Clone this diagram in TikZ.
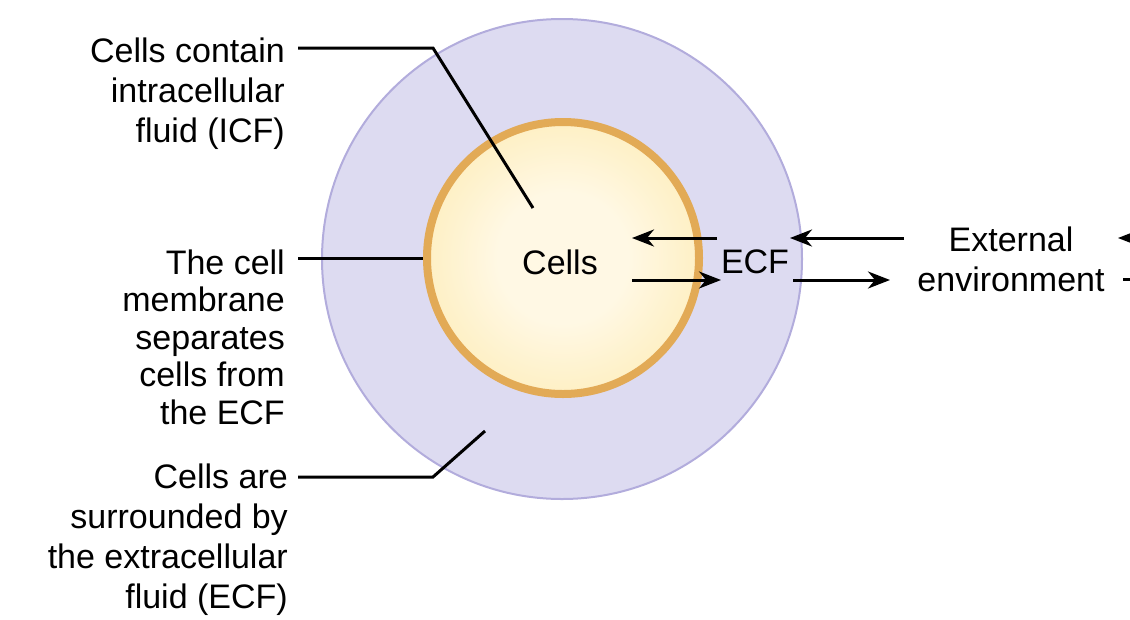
\documentclass[tikz,border=0pt]{standalone}
\usepackage{fontspec}
\setmainfont{Liberation Sans}
\usetikzlibrary{arrows.meta}
\definecolor{ecf}{RGB}{221,219,241}
\definecolor{ecfborder}{RGB}{178,172,220}
\definecolor{cellin}{RGB}{255,248,228}
\definecolor{cellout}{RGB}{252,224,136}
\definecolor{membrane}{RGB}{226,170,86}
\pgfdeclareradialshading{cellshade}{\pgfpoint{0bp}{0bp}}{color(0bp)=(cellin); color(12bp)=(cellin); color(50bp)=(cellout)}
\begin{document}
\begin{tikzpicture}[x=1pt,y=-1pt,
  lbl/.style={font=\fontsize{34}{40}\selectfont, inner sep=0pt},
  tightlbl/.style={font=\fontsize{34}{37.5}\selectfont, inner sep=0pt},
  leader/.style={line width=3pt},
  flow/.style={line width=3pt, -{Stealth[length=22pt,width=17pt,inset=7pt]}}]
\useasboundingbox (0,0) rectangle (1130,619);
\clip (0,0) rectangle (1130,619);
% compartments
\node[circle, draw=ecfborder, fill=ecf, line width=2pt, minimum size=480pt, inner sep=0pt] (ecfc) at (562,259) {};
\node[circle, draw=membrane, shading=cellshade, line width=8pt, minimum size=272pt, inner sep=0pt] (cell) at (563,258) {};
% texts
\node[lbl] (cells) at (560,262) {Cells};
\node[lbl] (ecft) at (755,262) {ECF};
\node[lbl, align=center] (ext) at (1011,259) {External\\environment};
\node[lbl, align=right, anchor=east] (icf) at (285,94) {Cells contain\\intracellular\\fluid (ICF)};
\node[tightlbl, align=right, anchor=east] (mem) at (285,337) {The cell\\membrane\\separates\\cells from\\the ECF};
\node[lbl, align=right, anchor=east] (sur) at (288,540) {Cells are\\surrounded by\\the extracellular\\fluid (ECF)};
% leader coordinates
\coordinate (icfA) at (433,48);
\coordinate (icfB) at (533,208);
\coordinate (memA) at (298,258);
\coordinate (surA) at (433,477);
\coordinate (surB) at (485,431);
\draw[leader] (298,48 -| icf.east) ++(13,0) -- (icfA) -- (icfB);
\draw[leader] (memA) -- (cell.west |- memA);
\draw[leader] ([xshift=10pt]sur.east |- surA) -- (surA) -- (surB);
% exchange arrows
\coordinate (a1s) at (717,238); \coordinate (a1e) at (632,238);
\coordinate (a2s) at (632,280); \coordinate (a2e) at (721,280);
\coordinate (a3s) at (904,238); \coordinate (a3e) at (790,238);
\coordinate (a4s) at (793,280); \coordinate (a4e) at (890,280);
\coordinate (a5s) at (1145,238); \coordinate (a5e) at (1118,238);
\coordinate (a6s) at (1123,279); \coordinate (a6e) at (1160,279);
\draw[flow] (a1s) -- (a1e);
\draw[flow] (a2s) -- (a2e);
\draw[flow] (a3s) -- (a3e);
\draw[flow] (a4s) -- (a4e);
\draw[flow] (a5s) -- (a5e);
\draw[flow] (a6s) -- (a6e);
\end{tikzpicture}
\end{document}
